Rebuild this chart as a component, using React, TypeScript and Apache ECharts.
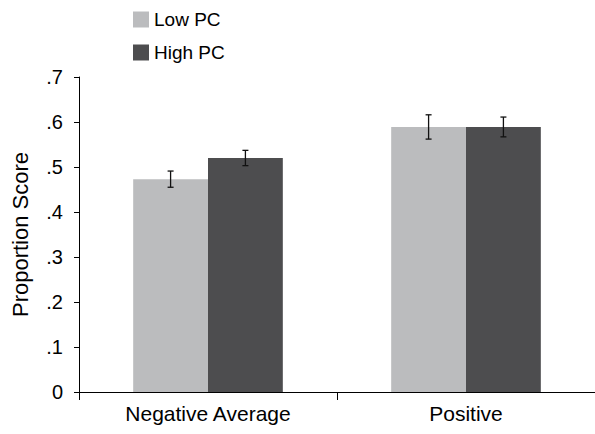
import React, { useEffect, useRef } from "react";
import * as echarts from "echarts";

const categories = ["Negative Average", "Positive"];
const seriesNames = ["Low PC", "High PC"];
const lowPC = [0.473, 0.589];
const highPC = [0.52, 0.589];
const lowPCErr = [0.018, 0.027];
const highPCErr = [0.017, 0.022];
const colors = ["#bbbcbe", "#4d4d4f"];

const FONT = "'Liberation Sans', Arial, sans-serif";

export default function App() {
  const ref = useRef<HTMLDivElement>(null);
  useEffect(() => {
    if (!ref.current) return;
    const chart = echarts.init(ref.current, null, { renderer: "svg" });
    const values = [lowPC, highPC];
    const errs = [lowPCErr, highPCErr];
    const errData: number[][] = [];
    values.forEach((vals, s) =>
      vals.forEach((v, c) => errData.push([c, v, errs[s][c], s]))
    );
    const catGap = 0.42;
    chart.setOption({
      animation: false,
      textStyle: { fontFamily: FONT },
      legend: {
        orient: "vertical",
        left: 128,
        top: 5,
        itemWidth: 16,
        itemHeight: 16,
        itemGap: 14,
        icon: "rect",
        data: seriesNames,
        textStyle: { fontFamily: FONT, fontSize: 19, color: "#000", lineHeight: 16 },
      },
      grid: { left: 79, right: 0, top: 77, bottom: 42, containLabel: false, outerBoundsMode: "none" },
      xAxis: {
        type: "category",
        data: categories,
        axisLine: { lineStyle: { color: "#000", width: 1 } },
        axisTick: { show: true, length: 8, lineStyle: { color: "#000" } },
        axisLabel: { interval: 0, fontFamily: FONT, fontSize: 21, color: "#000", margin: 11 },
      },
      yAxis: {
        type: "value",
        min: 0,
        max: 0.7,
        interval: 0.1,
        name: "Proportion Score",
        nameLocation: "middle",
        nameGap: 48,
        nameTextStyle: { fontFamily: FONT, fontSize: 22, color: "#000" },
        splitLine: { show: false },
        axisLine: { show: true, lineStyle: { color: "#000", width: 1 } },
        axisTick: { show: true, length: 5, lineStyle: { color: "#000" } },
        axisLabel: {
          fontFamily: FONT,
          fontSize: 20,
          color: "#000",
          margin: 16,
          formatter: (v: number) => (v === 0 ? "0" : v.toFixed(1).replace(/^0/, "")),
        },
      },
      series: [
        ...seriesNames.map((name, i) => ({
          name,
          type: "bar",
          data: values[i],
          barGap: "0%",
          barCategoryGap: catGap * 100 + "%",
          itemStyle: { color: colors[i] },
        })),
        {
          type: "custom",
          data: errData,
          z: 10,
          renderItem: (params: any, api: any) => {
            const c = api.value(0);
            const v = api.value(1);
            const e = api.value(2);
            const s = api.value(3);
            const band = api.size([1, 0])[0];
            const barW = (band * (1 - catGap)) / 2;
            const center = api.coord([c, 0])[0];
            const x = center + (s === 0 ? -barW / 2 : barW / 2);
            const yTop = api.coord([c, v + e])[1];
            const yBot = api.coord([c, v - e])[1];
            const cap = 3;
            const style = { stroke: "#111", lineWidth: 1.3 };
            return {
              type: "group",
              children: [
                { type: "line", shape: { x1: x, y1: yTop, x2: x, y2: yBot }, style },
                { type: "line", shape: { x1: x - cap, y1: yTop, x2: x + cap, y2: yTop }, style },
                { type: "line", shape: { x1: x - cap, y1: yBot, x2: x + cap, y2: yBot }, style },
              ],
            };
          },
        },
      ],
    });
    return () => chart.dispose();
  }, []);
  return (
    <div
      ref={ref}
      style={{ position: "fixed", left: 0, top: 0, width: 595, height: 434, background: "#fff" }}
    />
  );
}
